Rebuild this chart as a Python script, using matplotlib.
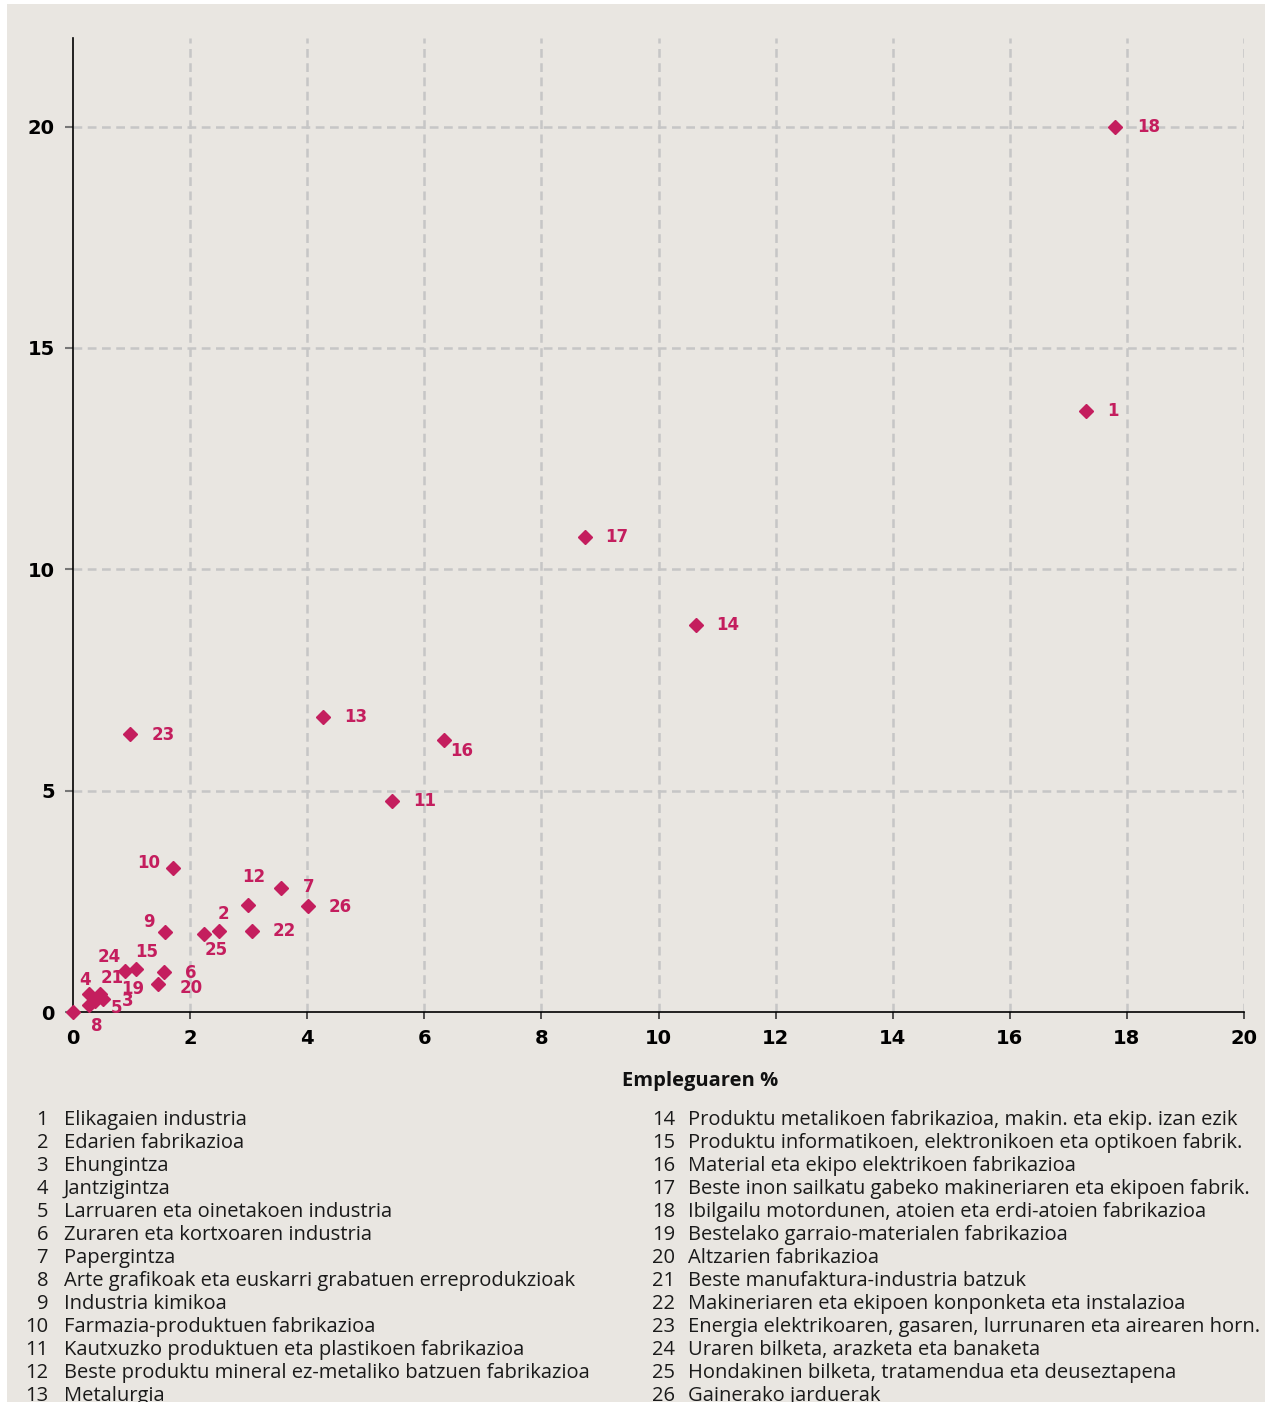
import matplotlib
matplotlib.use("Agg")
import matplotlib.pyplot as plt
from matplotlib.patches import Rectangle

# ---- data ----
codes = list(range(1, 27))
employment = [17.30, 2.50, 0.38, 0.27, 0.27, 1.55, 3.55, 0.00, 1.57, 1.70,
              5.45, 2.99, 4.27, 10.64, 1.07, 6.34, 8.74, 17.80, 0.51, 1.46,
              0.46, 3.05, 0.97, 0.89, 2.24, 4.01]
emissions = [13.57, 1.84, 0.25, 0.41, 0.16, 0.91, 2.79, 0.00, 1.80, 3.26,
             4.76, 2.42, 6.66, 8.74, 0.96, 6.14, 10.74, 20.00, 0.29, 0.63,
             0.41, 1.84, 6.28, 0.93, 1.77, 2.39]
names = [
    "Elikagaien industria",
    "Edarien fabrikazioa",
    "Ehungintza",
    "Jantzigintza",
    "Larruaren eta oinetakoen industria",
    "Zuraren eta kortxoaren industria",
    "Papergintza",
    "Arte grafikoak eta euskarri grabatuen erreprodukzioak",
    "Industria kimikoa",
    "Farmazia-produktuen fabrikazioa",
    "Kautxuzko produktuen eta plastikoen fabrikazioa",
    "Beste produktu mineral ez-metaliko batzuen fabrikazioa",
    "Metalurgia",
    "Produktu metalikoen fabrikazioa, makin. eta ekip. izan ezik",
    "Produktu informatikoen, elektronikoen eta optikoen fabrik.",
    "Material eta ekipo elektrikoen fabrikazioa",
    "Beste inon sailkatu gabeko makineriaren eta ekipoen fabrik.",
    "Ibilgailu motordunen, atoien eta erdi-atoien fabrikazioa",
    "Bestelako garraio-materialen fabrikazioa",
    "Altzarien fabrikazioa",
    "Beste manufaktura-industria batzuk",
    "Makineriaren eta ekipoen konponketa eta instalazioa",
    "Energia elektrikoaren, gasaren, lurrunaren eta airearen horn.",
    "Uraren bilketa, arazketa eta banaketa",
    "Hondakinen bilketa, tratamendua eta deuseztapena",
    "Gainerako jarduerak",
]
x_ticks = [0, 2, 4, 6, 8, 10, 12, 14, 16, 18, 20]
y_ticks = [0, 5, 10, 15, 20]
x_label = "Empleguaren %"

# label offsets in pixels (dx, dy up) -- layout only
label_offsets = {
    1: (27, 0), 2: (4, 17), 3: (32, 0), 4: (-4, 14), 5: (28, -3), 6: (27, -1),
    7: (28, 1), 8: (24, -14), 9: (-16, 10), 10: (-24, 5), 11: (33, 0), 12: (6, 28),
    13: (33, 0), 14: (32, 0), 15: (11, 17), 16: (17, -11), 17: (32, 0), 18: (33, 0),
    19: (30, 10), 20: (33, -4), 21: (12, 16), 22: (33, 0), 23: (33, -1), 24: (-16, 14),
    25: (12, -16), 26: (32, -1),
}

W, H = 1272, 1402
BG = "#E9E6E1"
MAG = "#C41E5E"

fig = plt.figure(figsize=(W / 100, H / 100), dpi=100, facecolor="white")
bgrect = Rectangle((7 / W, 0), (1265 - 7) / W, (H - 4) / H,
                   transform=fig.transFigure, facecolor=BG,
                   edgecolor="none", zorder=-10)
fig.add_artist(bgrect)

ax = fig.add_axes([73 / W, 1 - 1012 / H, (1244 - 73) / W, (1012 - 38) / H])
ax.set_zorder(1)
ax.set_facecolor("none")
ax.set_xlim(0, 20)
ax.set_ylim(0, 22)
ax.set_xticks(x_ticks)
ax.set_yticks(y_ticks)
ax.set_xticklabels([str(t) for t in x_ticks], fontsize=14, fontweight="bold")
ax.set_yticklabels([str(t) for t in y_ticks], fontsize=14, fontweight="bold")
ax.tick_params(axis="y", length=6, width=1.5, color="#777777", pad=7)
ax.tick_params(axis="x", length=5, width=1.2, color="#333333", pad=7)
for s in ["top", "right"]:
    ax.spines[s].set_visible(False)
for s in ["left", "bottom"]:
    ax.spines[s].set_color("black")
    ax.spines[s].set_linewidth(1.2)

for xv in x_ticks[1:]:
    ax.axvline(xv, color="#C6C6C6", lw=1.8, ls=(0, (3.5, 2.2)), zorder=1)
for yv in y_ticks[1:]:
    ax.axhline(yv, color="#C6C6C6", lw=1.8, ls=(0, (3.5, 2.2)), zorder=1)

ax.plot(employment, emissions, ls="none", marker="D", ms=7.5, color=MAG,
        mec=MAG, zorder=3, clip_on=False)
for c, xv, yv in zip(codes, employment, emissions):
    dx, dy = label_offsets[c]
    ax.annotate(str(c), (xv, yv), xytext=(dx, dy), textcoords="offset pixels",
                ha="center", va="center", fontsize=12, fontweight="semibold",
                color=MAG, zorder=4, annotation_clip=False)

fig.text(700 / W, 1 - 1081 / H, x_label, ha="center", va="center",
         fontsize=14.5, fontweight="bold", family="Open Sans", color="#111111")

# legend list
row0 = 1120
step = 23
leg_font = "Open Sans"
leg_size = 14.5
for i, (c, n) in enumerate(zip(codes, names)):
    col = i // 13
    r = i % 13
    y = 1 - (row0 + r * step) / H
    num_x = (48 if col == 0 else 675) / W
    txt_x = (64 if col == 0 else 688) / W
    fig.text(num_x, y, str(c), ha="right", va="center", fontsize=leg_size,
             family=leg_font, color="#1a1a1a")
    fig.text(txt_x, y, n, ha="left", va="center", fontsize=leg_size,
             family=leg_font, color="#1a1a1a")

fig.savefig("out.png", dpi=100, facecolor="white")
